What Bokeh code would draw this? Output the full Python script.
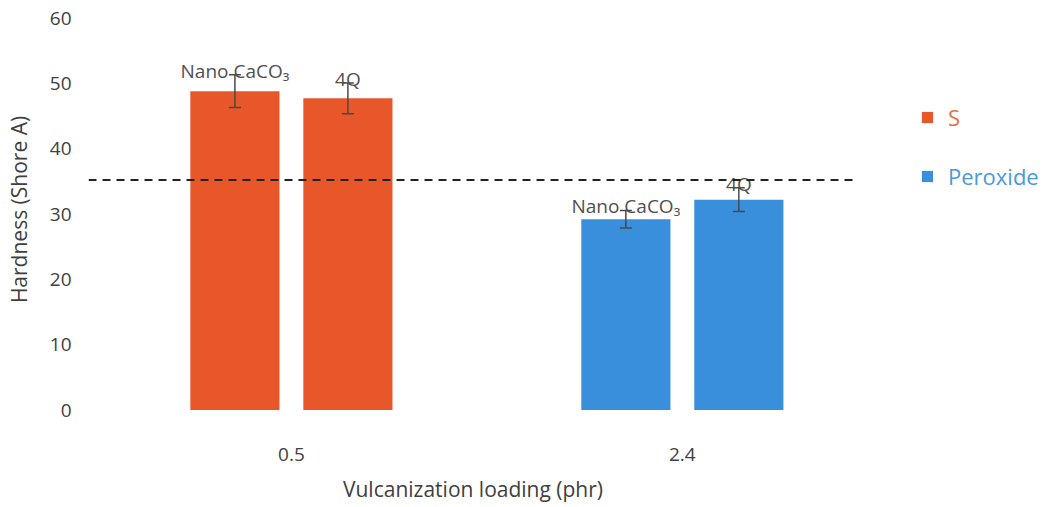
from bokeh.plotting import figure
from bokeh.layouts import row
from bokeh.models import ColumnDataSource, Whisker, TeeHead, Span, Legend, LegendItem, FixedTicker, Range1d
from bokeh.core.properties import value
from bokeh.embed import file_html
from bokeh.resources import INLINE

# ---- data ----
loadings = ["0.5", "2.4"]              # vulcanization loading (phr)
fillers = ["Nano CaCO₃", "4Q"]
s_hardness = [48.8, 47.7]              # S system, at 0.5 phr
s_error = [2.5, 2.35]
peroxide_hardness = [29.2, 32.2]       # Peroxide system, at 2.4 phr
peroxide_error = [1.35, 1.8]
reference_hardness = 35.2
y_ticks = [0, 10, 20, 30, 40, 50, 60]
series_names = ["S", "Peroxide"]

FONT = "Open Sans"
ORANGE = "#e8572a"
BLUE = "#3a8fdc"
TXT = "#404040"

offsets = [-0.1445, 0.1445]
bar_w = 0.228

def make_source(group_index, vals, errs):
    xs = [group_index + o for o in offsets]
    return ColumnDataSource(dict(
        x=xs, top=vals,
        upper=[v + e for v, e in zip(vals, errs)],
        lower=[v - e for v, e in zip(vals, errs)],
        label=fillers,
    ))

src_s = make_source(0, s_hardness, s_error)
src_p = make_source(1, peroxide_hardness, peroxide_error)

p = figure(width=857, height=507,
           min_border_left=88, min_border_right=0,
           min_border_top=0, min_border_bottom=89,
           x_range=Range1d(-0.519, 1.448), y_range=Range1d(-1.301, 62.68),
           output_backend="svg", toolbar_location=None)

p.vbar(x="x", top="top", width=bar_w, bottom=0, source=src_s,
       fill_color=ORANGE, line_color=None)
p.vbar(x="x", top="top", width=bar_w, bottom=0, source=src_p,
       fill_color=BLUE, line_color=None)

for src in (src_s, src_p):
    w = Whisker(base="x", upper="upper", lower="lower", source=src, level="overlay",
                line_color="#4a4a4a", line_width=1.5,
                upper_head=TeeHead(size=12, line_color="#4a4a4a", line_width=1.5),
                lower_head=TeeHead(size=12, line_color="#4a4a4a", line_width=1.5))
    p.add_layout(w)
    p.text(x="x", y="upper", text="label", source=src, y_offset=-4,
           text_align="center", text_baseline="alphabetic",
           text_font=value(FONT), text_font_size="19px", text_color="#505050")

p.add_layout(Span(location=reference_hardness, dimension="width",
                  line_color="#222222", line_width=2, line_dash="8 6"))

# axes
p.xaxis.ticker = FixedTicker(ticks=[0, 1])
p.xaxis.major_label_overrides = {0: loadings[0], 1: loadings[1]}
p.yaxis.ticker = FixedTicker(ticks=y_ticks)
for ax in (p.xaxis, p.yaxis):
    ax.axis_line_color = None
    ax.major_tick_line_color = None
    ax.minor_tick_line_color = None
    ax.major_label_text_font = FONT
    ax.major_label_text_font_size = "19px"
    ax.major_label_text_color = TXT
    ax.axis_label_text_font = FONT
    ax.axis_label_text_font_size = "21px"
    ax.axis_label_text_font_style = "normal"
    ax.axis_label_text_color = TXT
p.xaxis.axis_label = "Vulcanization loading (phr)"
p.yaxis.axis_label = "Hardness (Shore A)"
p.xaxis.major_label_standoff = 23
p.xaxis.axis_label_standoff = 11
p.yaxis.major_label_standoff = 11
p.yaxis.axis_label_standoff = 14

p.xgrid.visible = False
p.ygrid.visible = False
p.outline_line_color = None

# legend panel: same vertical borders as the chart so the frames line up
pl = figure(width=205, height=507, title=None,
            min_border_left=0, min_border_right=0,
            min_border_top=0, min_border_bottom=89,
            output_backend="svg", toolbar_location=None,
            x_range=Range1d(0, 1), y_range=Range1d(0, 1))
pl.axis.visible = False
pl.grid.visible = False
pl.outline_line_color = None
r_s = pl.vbar(x="x", top="top", width=0.1, source=ColumnDataSource(dict(x=[0], top=[0])),
              fill_color=ORANGE, line_color=None)
r_p = pl.vbar(x="x", top="top", width=0.1, source=ColumnDataSource(dict(x=[0], top=[0])),
              fill_color=BLUE, line_color=None)

for r, lab, col, loc in ((r_s, series_names[0], "#e8703f", (63, 286)),
                         (r_p, series_names[1], "#4a98de", (63, 227))):
    lg = Legend(items=[LegendItem(label=lab, renderers=[r])], location=loc,
                padding=0, margin=0, border_line_color=None, background_fill_alpha=0,
                glyph_width=14, glyph_height=14, label_standoff=14,
                label_text_font=FONT, label_text_font_size="22px", label_text_color=col)
    pl.add_layout(lg)

layout = row(p, pl, spacing=0)
open("out.html", "w").write(file_html(layout, INLINE))
